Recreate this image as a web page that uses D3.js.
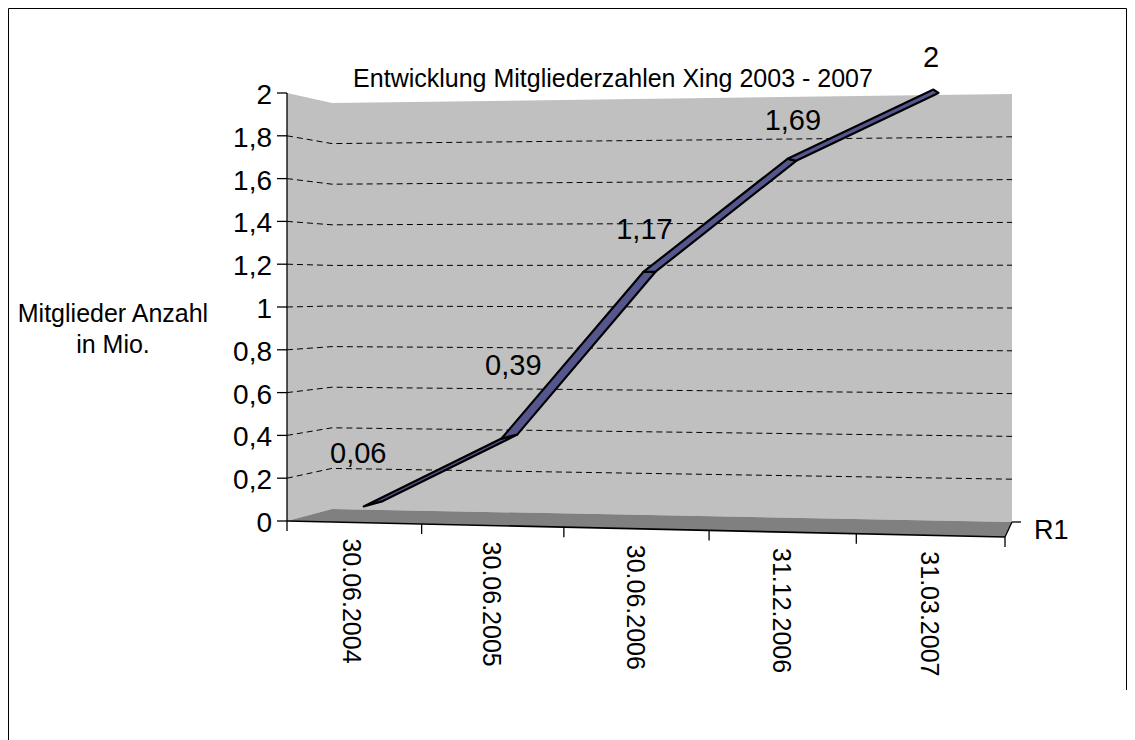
<!DOCTYPE html>
<html><head><meta charset="utf-8">
<script src="https://cdn.jsdelivr.net/npm/d3@7"></script>
<style>html,body{margin:0;padding:0;background:#fff;} svg{display:block;font-family:Arial,"Liberation Sans",sans-serif;}</style>
</head><body><svg id="chart" width="1135" height="740"></svg>
<script>
// ---- data ----
const categories = ["30.06.2004","30.06.2005","30.06.2006","31.12.2006","31.03.2007"];
const values = [0.06, 0.39, 1.17, 1.69, 2];
const valueLabels = ["0,06","0,39","1,17","1,69","2"];
const yTicks = [0, 0.2, 0.4, 0.6, 0.8, 1, 1.2, 1.4, 1.6, 1.8, 2];
const yTickLabels = ["0","0,2","0,4","0,6","0,8","1","1,2","1,4","1,6","1,8","2"];
const seriesName = "R1";
const chartTitle = "Entwicklung Mitgliederzahlen Xing 2003 - 2007";
const yTitleLines = ["Mitglieder Anzahl","in Mio."];

// ---- layout (label nudges relative to projected point) ----
const labelNudge = [[-15,-41],[4,-62],[-5,-33],[1,-30],[-5,-24]];

const svg = d3.select("#chart");
const n = categories.length;
const yMax = 2;
const xFront = d3.scalePow().exponent(1.04).domain([0, n]).range([287, 1005]);
const xBack  = d3.scalePow().exponent(1.04).domain([0, n]).range([332, 1012]);
const frac   = d3.scalePow().exponent(1.04).domain([0, n]).range([0, 1]);
const yFL = d3.scaleLinear().domain([0, yMax]).range([521, 93]);
const yFR = d3.scaleLinear().domain([0, yMax]).range([537, 87]);
const yBL = d3.scaleLinear().domain([0, yMax]).range([509, 103]);
const yBR = d3.scaleLinear().domain([0, yMax]).range([522, 94]);

function proj(t, v, d) {
  const f = frac(t);
  const x = xFront(t) * (1 - d) + xBack(t) * d;
  const yf = yFL(v) + (yFR(v) - yFL(v)) * f;
  const yb = yBL(v) + (yBR(v) - yBL(v)) * f;
  return [x, yf + (yb - yf) * d];
}
const poly = pts => "M" + pts.map(p => p.join(",")).join("L") + "Z";

// border
svg.append("path").attr("d", "M8.5,740V8.5H1126.5V690")
  .attr("fill", "none").attr("stroke", "#000").attr("stroke-width", 1);

// walls
svg.append("path").attr("d", poly([proj(0,0,0), proj(0,yMax,0), proj(0,yMax,1), proj(0,0,1)]))
  .attr("fill", "#c0c0c0");
svg.append("path").attr("d", poly([proj(0,0,1), proj(0,yMax,1), proj(n,yMax,1), proj(n,0,1)]))
  .attr("fill", "#c0c0c0");
// floor
svg.append("path").attr("d", poly([proj(0,0,0), proj(0,0,1), proj(n,0,1), proj(n,0,0)]))
  .attr("fill", "#808080");

// gridlines
svg.append("g").selectAll("path")
  .data(yTicks.filter(v => v > 0 && v < yMax))
  .join("path")
  .attr("d", v => "M" + [proj(0,v,0), proj(0,v,1), proj(n,v,1)].map(p => p.join(",")).join("L"))
  .attr("fill", "none").attr("stroke", "#000").attr("stroke-width", 1)
  .attr("stroke-dasharray", "6,4");

// y axis
const yAxisG = svg.append("g");
yAxisG.append("line")
  .attr("x1", proj(0,0,0)[0]).attr("y1", proj(0,0,0)[1])
  .attr("x2", proj(0,yMax,0)[0]).attr("y2", proj(0,yMax,0)[1])
  .attr("stroke", "#000").attr("stroke-width", 1.3);
yAxisG.selectAll("line.tick").data(yTicks).join("line").attr("class","tick")
  .attr("x1", v => proj(0,v,0)[0] - 10).attr("x2", v => proj(0,v,0)[0])
  .attr("y1", v => proj(0,v,0)[1]).attr("y2", v => proj(0,v,0)[1])
  .attr("stroke", "#000").attr("stroke-width", 1.3);
yAxisG.selectAll("text").data(yTicks).join("text")
  .attr("x", v => proj(0,v,0)[0] - 15).attr("y", v => proj(0,v,0)[1] + 11)
  .attr("text-anchor", "end").attr("font-size", 28).attr("fill", "#000")
  .text((v, i) => yTickLabels[i]);

// x axis
const xAxisG = svg.append("g");
xAxisG.append("line")
  .attr("x1", proj(0,0,0)[0]).attr("y1", proj(0,0,0)[1])
  .attr("x2", proj(n,0,0)[0]).attr("y2", proj(n,0,0)[1])
  .attr("stroke", "#000").attr("stroke-width", 1.6);
xAxisG.selectAll("line.tick").data(d3.range(n + 1)).join("line").attr("class","tick")
  .attr("x1", i => proj(i,0,0)[0]).attr("x2", i => proj(i,0,0)[0])
  .attr("y1", i => proj(i,0,0)[1]).attr("y2", i => proj(i,0,0)[1] + 10)
  .attr("stroke", "#000").attr("stroke-width", 1.3);
xAxisG.selectAll("text").data(categories).join("text")
  .attr("transform", (c, i) => { const p = proj(i + 0.5, 0, 0); return `translate(${p[0] - 9.5},${p[1] + 16}) rotate(90)`; })
  .attr("text-anchor", "start").attr("font-size", 25).attr("fill", "#000")
  .text(c => c);

// depth (series) axis
const pfr = proj(n,0,0), pbr = proj(n,0,1);
svg.append("line").attr("x1", pfr[0]).attr("y1", pfr[1]).attr("x2", pbr[0]).attr("y2", pbr[1])
  .attr("stroke", "#000").attr("stroke-width", 1.3);
svg.append("line").attr("x1", pbr[0]).attr("y1", pbr[1]).attr("x2", pbr[0] + 9).attr("y2", pbr[1])
  .attr("stroke", "#000").attr("stroke-width", 1.3);
svg.append("text").attr("x", pbr[0] + 22).attr("y", pbr[1] + 17)
  .attr("font-size", 27).attr("fill", "#000").text(seriesName);

// ribbon line
const d0 = 0.27, d1 = 0.73;
const segs = d3.range(n - 1);
svg.append("g").selectAll("path").data(segs).join("path")
  .attr("d", i => poly([
    proj(i + 0.5, values[i], d0), proj(i + 1.5, values[i + 1], d0),
    proj(i + 1.5, values[i + 1], d1), proj(i + 0.5, values[i], d1)]))
  .attr("fill", "#56568f").attr("stroke", "#000").attr("stroke-width", 2.2)
  .attr("stroke-linejoin", "round");

// data labels
svg.append("g").selectAll("text").data(values).join("text")
  .attr("x", (v, i) => proj(i + 0.5, v, 0.5)[0] + labelNudge[i][0])
  .attr("y", (v, i) => proj(i + 0.5, v, 0.5)[1] + labelNudge[i][1])
  .attr("text-anchor", "middle").attr("font-size", 29).attr("fill", "#000")
  .text((v, i) => valueLabels[i]);

// title
svg.append("text").attr("x", 613).attr("y", 87).attr("text-anchor", "middle")
  .attr("font-size", 25).attr("fill", "#000").text(chartTitle);

// y-axis title
svg.append("g").selectAll("text").data(yTitleLines).join("text")
  .attr("x", 113).attr("y", (d, i) => 322 + i * 31).attr("text-anchor", "middle")
  .attr("font-size", 25).attr("fill", "#000").text(d => d);
</script>
</body></html>
